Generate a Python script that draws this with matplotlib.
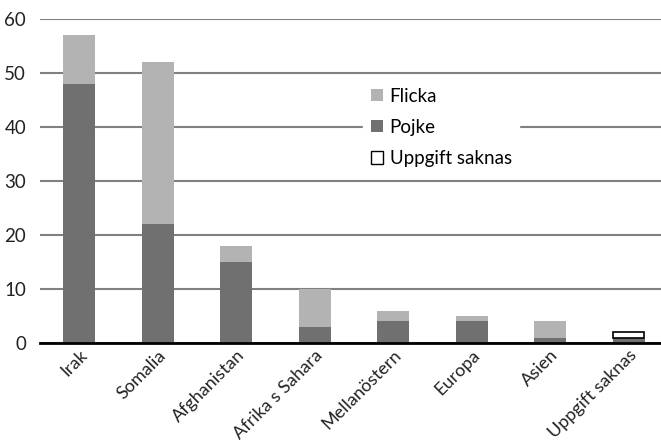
import matplotlib.pyplot as plt
import numpy as np

plt.rcParams['font.family'] = ['Lato', 'DejaVu Sans']

regioner = ['Irak', 'Somalia', 'Afghanistan', 'Afrika s Sahara', 'Mellanöstern',
            'Europa', 'Asien', 'Uppgift saknas']
pojke = [48, 22, 15, 3, 4, 4, 1, 1]
flicka = [9, 30, 3, 7, 2, 1, 3, 0]
saknas = [0, 0, 0, 0, 0, 0, 0, 1]

fig = plt.figure(figsize=(6.61, 4.45), dpi=100)
ax = fig.add_axes([40 / 661, 1 - 343 / 445, 628 / 661, 324 / 445])

x = np.arange(len(regioner))
w = 0.41
b1 = ax.bar(x, pojke, w, color='#707070', label='Pojke', zorder=3)
b2 = ax.bar(x, flicka, w, bottom=pojke, color='#b3b3b3', label='Flicka', zorder=3)
bottom2 = np.array(pojke) + np.array(flicka)
# only outline the bars that actually have a value
lw = [1.2 if v > 0 else 0 for v in saknas]
b3 = ax.bar(x, saknas, w * 0.97, bottom=bottom2, color='white', edgecolor='black',
            linewidth=lw, label='Uppgift saknas', zorder=3)

ax.set_xlim(-0.5, len(regioner) - 0.5)
ax.set_ylim(0, 60)
ax.set_yticks(range(0, 61, 10))
ax.yaxis.grid(True, color='#808080', linewidth=1.5, zorder=0)
ax.set_axisbelow(True)
for s in ['top', 'right', 'left']:
    ax.spines[s].set_visible(False)
ax.spines['bottom'].set_linewidth(2)
ax.spines['bottom'].set_zorder(4)
ax.tick_params(length=0, labelsize=13, colors='#222222')
ax.tick_params(axis='y', labelsize=13.5, pad=10)
ax.tick_params(axis='x', pad=3)
ax.set_xticks(x)
ax.set_xticklabels(regioner, rotation=45, ha='right', rotation_mode='anchor')

h3 = plt.Rectangle((0, 0), 1, 1, facecolor='white', edgecolor='black', linewidth=1)
leg = ax.legend([b2, b1, h3], ['Flicka', 'Pojke', 'Uppgift saknas'],
                loc='upper left', bbox_to_anchor=(0.5, 0.84), frameon=True,
                fontsize=13.5, handlelength=0.65, handleheight=0.65, handletextpad=0.35,
                labelspacing=0.75, borderpad=0.4)
leg.get_frame().set_edgecolor('white')
leg.get_frame().set_facecolor('white')
leg.get_frame().set_alpha(1)

fig.savefig('out.png', dpi=100)
